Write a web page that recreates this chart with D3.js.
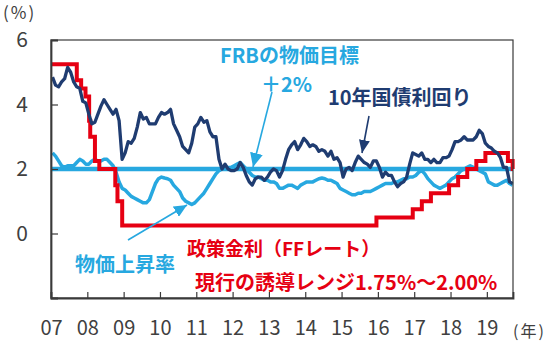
<!DOCTYPE html>
<html><head><meta charset="utf-8">
<script src="https://cdn.jsdelivr.net/npm/d3@7"></script>
<style>
html,body{margin:0;padding:0;background:#fff;}
svg{display:block;}
text{font-family:"Noto Sans CJK JP","Noto Sans",sans-serif;}
</style></head>
<body>
<svg id="chart" width="550" height="342"></svg>
<script>
// ---- data ----
const startYear = 2007;
const endYear = 2019.72;
const yearTicks = [2007,2008,2009,2010,2011,2012,2013,2014,2015,2016,2017,2018,2019];
const yearLabels = ["07","08","09","10","11","12","13","14","15","16","17","18","19"];
const yTicks = [0,2,4,6];
const frbTarget = 2.0;

// 10-year treasury yield, monthly from Jan 2007
const yield10 = [
 4.85,4.6,4.55,4.7,4.8,5.15,5.0,4.7,4.55,4.5,4.1,4.05,
 3.7,3.4,3.45,3.7,3.95,4.15,4.0,3.85,3.7,3.85,3.5,2.3,
 2.5,2.85,2.8,2.95,3.3,3.75,3.55,3.6,3.4,3.4,3.4,3.6,
 3.75,3.7,3.75,3.85,3.4,3.2,3.0,2.7,2.6,2.5,2.8,3.3,
 3.4,3.6,3.45,3.5,3.15,3.0,3.0,2.3,2.0,2.15,2.0,1.95,
 1.95,2.0,2.2,2.05,1.8,1.6,1.5,1.7,1.75,1.75,1.65,1.75,
 1.9,2.0,1.95,1.75,1.95,2.3,2.6,2.75,2.85,2.6,2.75,2.95,
 2.85,2.7,2.75,2.7,2.55,2.6,2.55,2.4,2.55,2.3,2.35,2.2,
 1.75,2.0,2.05,1.95,2.2,2.4,2.3,2.2,2.15,2.05,2.25,2.25,
 2.05,1.75,1.9,1.8,1.8,1.6,1.45,1.55,1.6,1.75,2.15,2.5,
 2.45,2.4,2.5,2.3,2.3,2.2,2.3,2.2,2.2,2.35,2.35,2.4,
 2.6,2.85,2.85,2.9,3.0,2.9,2.9,2.9,3.0,3.2,3.1,2.8,
 2.7,2.65,2.55,2.5,2.35,2.05,2.05,1.6,1.55
];

// inflation (物価上昇率), monthly from Jan 2007
const inflation = [
 2.5,2.4,2.25,2.1,2.05,2.1,2.1,2.1,2.2,2.3,2.25,2.15,
 2.15,2.25,2.3,2.25,2.25,2.3,2.3,2.2,2.1,1.9,1.6,1.4,
 1.35,1.25,1.15,1.1,1.05,1.0,0.95,0.95,1.05,1.3,1.55,1.7,
 1.75,1.72,1.7,1.65,1.5,1.4,1.3,1.1,1.0,0.95,0.9,0.95,
 1.05,1.15,1.25,1.4,1.55,1.7,1.85,1.95,2.0,2.0,2.05,2.05,
 2.1,2.15,2.2,2.1,2.0,1.9,1.8,1.75,1.75,1.7,1.65,1.65,
 1.6,1.6,1.55,1.4,1.4,1.45,1.5,1.5,1.45,1.4,1.5,1.55,
 1.6,1.6,1.6,1.65,1.7,1.72,1.7,1.65,1.65,1.6,1.55,1.4,
 1.35,1.3,1.25,1.2,1.2,1.25,1.25,1.3,1.3,1.3,1.35,1.4,
 1.45,1.5,1.55,1.55,1.55,1.6,1.6,1.65,1.7,1.7,1.75,1.75,
 1.8,1.9,1.95,1.85,1.7,1.6,1.5,1.45,1.4,1.45,1.5,1.6,
 1.7,1.75,1.85,1.95,2.0,2.05,2.1,2.05,2.0,1.95,1.9,1.85,
 1.6,1.55,1.5,1.5,1.55,1.6,1.65,1.55,1.5
];

// policy rate (FF) step changes: [date, rate]
const ffDates = [2007.0,2007.71,2007.83,2007.95,2008.05,2008.08,2008.21,2008.33,2008.77,2008.83,2008.96,
                 2015.96,2016.96,2017.21,2017.46,2017.96,2018.21,2018.46,2018.71,2018.96,2019.58,2019.71];
const ffRates = [5.25,4.75,4.5,4.25,3.5,3.0,2.25,2.0,1.5,1.0,0.25,
                 0.5,0.75,1.0,1.25,1.5,1.75,2.0,2.25,2.5,2.25,2.0];

// ---- chart ----
const svg = d3.select("#chart");
const L = 51, R = 513, T = 40, B = 298;
const x = d3.scaleLinear().domain([startYear, endYear]).range([L, R]);
const y = d3.scaleLinear().domain([-2, 6]).range([B, T]);

const C = {red:"#e60012", navy:"#1f3c71", blue:"#27a8e0", axis:"#3a3a3a", text:"#404040"};

const monthly = arr => arr.map((v,i)=>({t:startYear + i/12 + 1/24, v}));
const line = d3.line().x(d=>x(d.t)).y(d=>y(d.v));

const g = svg.append("g");

// FRB target line
g.append("path").datum([{t:startYear,v:frbTarget},{t:endYear,v:frbTarget}])
 .attr("d", line).attr("stroke", C.blue).attr("stroke-width", 4.5).attr("fill","none");

// inflation
g.append("path").datum(monthly(inflation))
 .attr("d", line).attr("stroke", C.blue).attr("stroke-width", 3.5)
 .attr("fill","none").attr("stroke-linejoin","round");

// FF rate step
const ffData = ffDates.map((t,i)=>({t, v:ffRates[i]}));
ffData.push({t:endYear, v:ffRates[ffRates.length-1]});
g.append("path").datum(ffData)
 .attr("d", d3.line().x(d=>x(d.t)).y(d=>y(d.v)).curve(d3.curveStepAfter))
 .attr("stroke", C.red).attr("stroke-width", 4).attr("fill","none");

// 10y yield
g.append("path").datum(monthly(yield10))
 .attr("d", line).attr("stroke", C.navy).attr("stroke-width", 3.3)
 .attr("fill","none").attr("stroke-linejoin","round");

// frame
svg.append("rect").attr("x",L).attr("y",T).attr("width",R-L).attr("height",B-T)
 .attr("fill","none").attr("stroke",C.axis).attr("stroke-width",1.2);

// axes
const yAxis = svg.append("g").attr("transform",`translate(${L},0)`)
 .call(d3.axisLeft(y).tickValues(yTicks).tickSize(-7).tickPadding(23).tickFormat(d3.format("d")));
yAxis.select(".domain").attr("stroke",C.axis).attr("stroke-width",1.8);
yAxis.selectAll(".tick line").attr("stroke",C.axis).attr("stroke-width",1.2);
yAxis.selectAll("text").attr("font-size",21).attr("fill",C.text)
 .style("font-family","'Noto Sans CJK JP',sans-serif");

const xAxis = svg.append("g").attr("transform",`translate(0,${B})`)
 .call(d3.axisBottom(x).tickValues(yearTicks).tickSize(-6).tickPadding(23)
   .tickFormat((d,i)=>yearLabels[i]));
xAxis.select(".domain").attr("stroke",C.axis).attr("stroke-width",1.8);
xAxis.selectAll(".tick line").attr("stroke",C.axis).attr("stroke-width",1.2);
xAxis.selectAll("text").attr("font-size",20).attr("fill",C.text)
 .style("font-family","'Noto Sans CJK JP',sans-serif");

svg.append("text").attr("x",3).attr("y",19).attr("font-size",17).attr("fill",C.text)
 .attr("letter-spacing",2).text("(%)");
svg.append("text").attr("x",513).attr("y",337).attr("font-size",16).attr("fill",C.text)
 .attr("letter-spacing",2).text("(年)");

// arrow markers
const defs = svg.append("defs");
function marker(id,color,w,h){
  defs.append("marker").attr("id",id).attr("viewBox",`0 0 ${h} ${w}`)
   .attr("refX",h).attr("refY",w/2).attr("markerWidth",h).attr("markerHeight",w)
   .attr("markerUnits","userSpaceOnUse").attr("orient","auto")
   .append("path").attr("d",`M0,0L${h},${w/2}L0,${w}Z`).attr("fill",color);
}
marker("mb",C.blue,13,14);
marker("mn",C.navy,11,13);
marker("mi",C.blue,12,13);

function arrow(x1,y1,x2,y2,color,id){
  svg.append("line").attr("x1",x1).attr("y1",y1).attr("x2",x2).attr("y2",y2)
   .attr("stroke",color).attr("stroke-width",1.6).attr("marker-end",`url(#${id})`);
}
arrow(272,92,253,167,C.blue,"mb");
arrow(369,116,362,153,C.navy,"mn");
arrow(128,240,187,205,C.blue,"mi");

// annotations
function label(tx,x0,y0,color,size){
  svg.append("text").attr("x",x0).attr("y",y0).attr("font-size",size).attr("font-weight","bold")
   .attr("fill",color).text(tx);
}
label("FRBの物価目標",220,63,C.blue,20);
label("＋2%",261,92,C.blue,20);
label("10年国債利回り",328,105,C.navy,20);
label("物価上昇率",75,272,C.blue,20);
label("政策金利（FFレート）",187,256,C.red,19);
label("現行の誘導レンジ1.75%～2.00%",195,290,C.red,20);
</script>
</body></html>
